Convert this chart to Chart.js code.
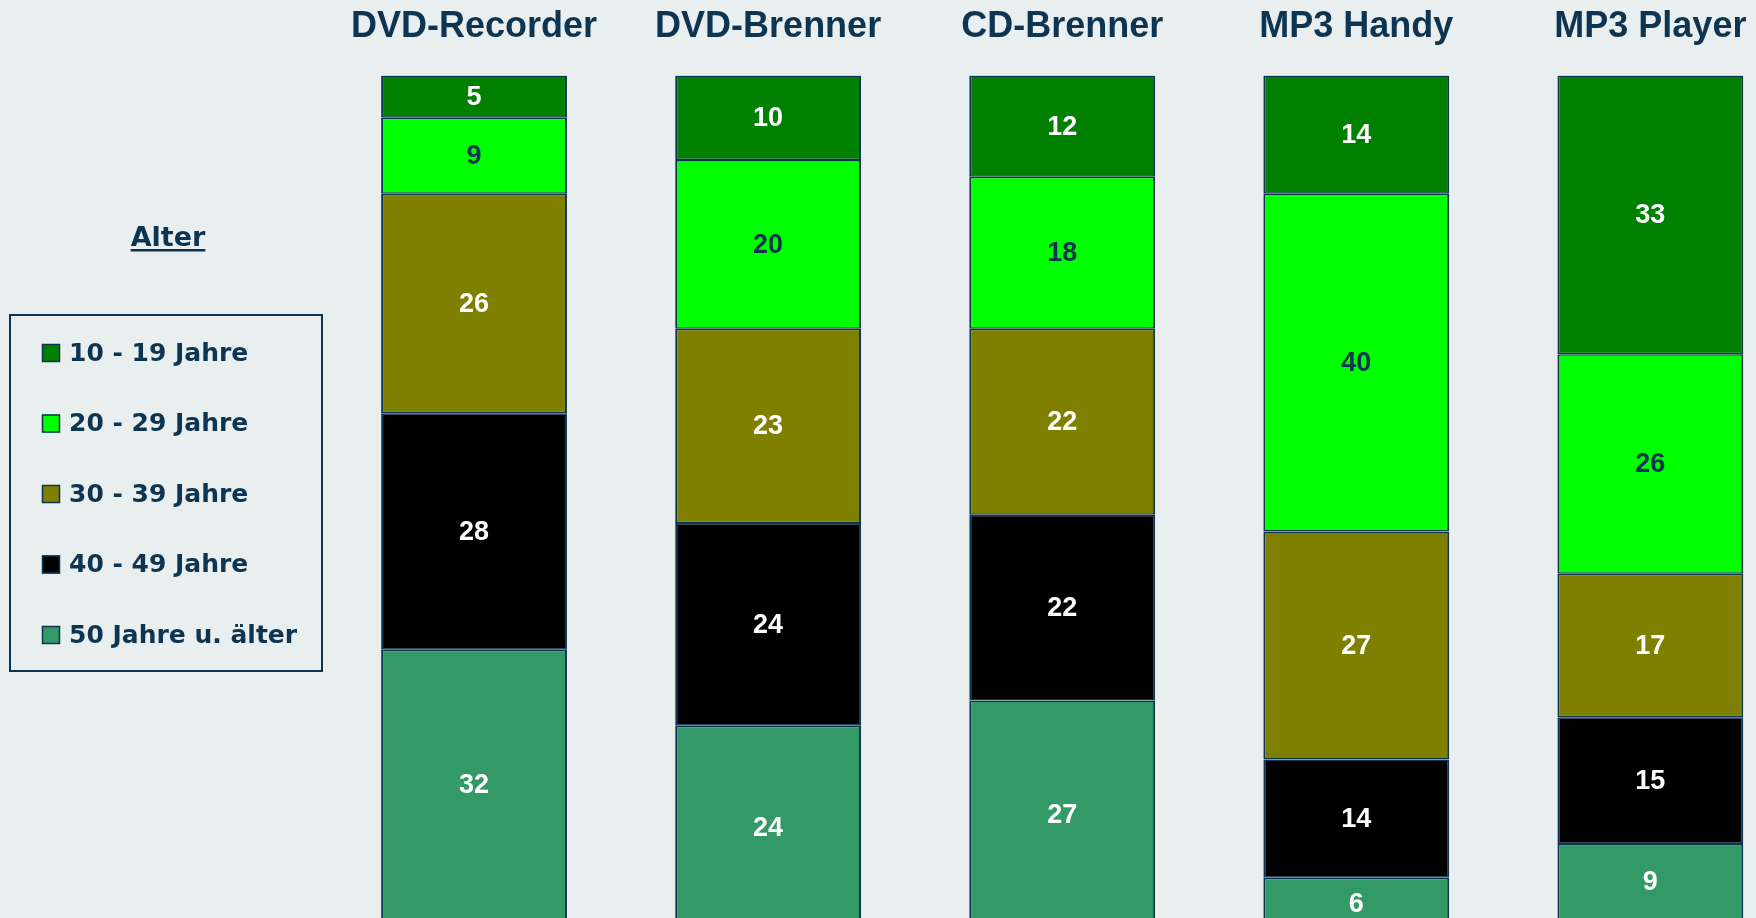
<!DOCTYPE html>
<html>
<head>
<meta charset="utf-8">
<script src="https://cdn.jsdelivr.net/npm/chart.js@4/dist/chart.umd.min.js"></script>
<style>
  html, body { margin: 0; padding: 0; background: #e9eeef; overflow: hidden; }
  #wrap { position: absolute; left: 0; top: 0; width: 1800px; height: 1000px; }
</style>
</head>
<body>
<div id="wrap"><canvas id="chart" width="1800" height="1000"></canvas></div>
<script>
// categories and values (percent per age group)
const categories = ["DVD-Recorder", "DVD-Brenner", "CD-Brenner", "MP3 Handy", "MP3 Player"];
const age10to19 = [5, 10, 12, 14, 33];
const age20to29 = [9, 20, 18, 40, 26];
const age30to39 = [26, 23, 22, 27, 17];
const age40to49 = [28, 24, 22, 14, 15];
const age50plus = [32, 24, 27, 6, 9];
const seriesNames = ["10 - 19 Jahre", "20 - 29 Jahre", "30 - 39 Jahre", "40 - 49 Jahre", "50 Jahre u. älter"];
const legendTitle = "Alter";

const seriesColors = ["#008000", "#00ff00", "#808000", "#000000", "#339966"];
const labelColors = ["#ffffff", "#0d3552", "#ffffff", "#ffffff", "#ffffff"];
const navy = "#0d3552";

const seriesValues = [age10to19, age20to29, age30to39, age40to49, age50plus];

// value labels in the middle of every segment
const segmentLabels = {
    id: "segmentLabels",
    afterDatasetsDraw(chart) {
        const ctx = chart.ctx;
        ctx.save();
        ctx.font = "bold 27px 'Liberation Sans', Arial, sans-serif";
        ctx.textAlign = "center";
        ctx.textBaseline = "middle";
        chart.data.datasets.forEach((ds, i) => {
            const meta = chart.getDatasetMeta(i);
            ctx.fillStyle = labelColors[i];
            meta.data.forEach((bar, j) => {
                const y = (bar.y + bar.base) / 2;
                ctx.fillText(String(ds.data[j]), bar.x, y + 1);
            });
        });
        ctx.restore();
    }
};

// category titles above the bars, placed with the x scale
const categoryTitles = {
    id: "categoryTitles",
    afterDraw(chart) {
        const ctx = chart.ctx;
        const xScale = chart.scales.x;
        ctx.save();
        ctx.font = "bold 36px 'Liberation Sans', Arial, sans-serif";
        ctx.fillStyle = navy;
        ctx.textAlign = "center";
        ctx.textBaseline = "alphabetic";
        chart.data.labels.forEach((lab, i) => {
            ctx.fillText(lab, xScale.getPixelForValue(i), 37);
        });
        ctx.restore();
    }
};

// boxed legend on the left with underlined title
const boxLegend = {
    id: "boxLegend",
    afterDraw(chart) {
        const ctx = chart.ctx;
        ctx.save();
        ctx.fillStyle = navy;
        ctx.font = "bold 27px 'DejaVu Sans', Verdana, sans-serif";
        ctx.textAlign = "center";
        ctx.textBaseline = "alphabetic";
        ctx.fillText(legendTitle, 168, 246);
        const w = ctx.measureText(legendTitle).width;
        ctx.fillRect(168 - w / 2, 249, w, 2.5);

        ctx.strokeStyle = navy;
        ctx.lineWidth = 2;
        ctx.strokeRect(10, 315, 312, 356);

        ctx.font = "bold 25px 'DejaVu Sans', Verdana, sans-serif";
        ctx.textAlign = "left";
        ctx.textBaseline = "middle";
        chart.data.datasets.forEach((ds, i) => {
            const cy = 353 + i * 70.5;
            ctx.fillStyle = ds.backgroundColor;
            ctx.fillRect(42, cy - 9, 18, 18);
            ctx.lineWidth = 1.5;
            ctx.strokeRect(42.5, cy - 8.5, 17, 17);
            ctx.fillStyle = navy;
            ctx.fillText(ds.label, 69, cy + 1);
        });
        ctx.restore();
    }
};

const datasets = seriesNames.map((name, i) => ({
    label: name,
    data: seriesValues[i],
    backgroundColor: seriesColors[i],
    borderColor: navy,
    borderWidth: { top: 1.5, bottom: 1.5, left: 2, right: 2 },
    borderSkipped: false,
    barPercentage: 0.632,
    categoryPercentage: 1.0,
}));

new Chart(document.getElementById("chart"), {
    type: "bar",
    data: { labels: categories, datasets: datasets },
    plugins: [segmentLabels, categoryTitles, boxLegend],
    options: {
        responsive: false,
        animation: false,
        devicePixelRatio: 1,
        layout: { padding: { left: 327, right: 2.6, top: 75.5, bottom: 4 } },
        plugins: {
            legend: { display: false },
            tooltip: { enabled: false },
        },
        scales: {
            x: { stacked: true, display: false },
            y: { stacked: true, display: false, reverse: true, min: 0, max: 109 },
        },
    },
});
</script>
</body>
</html>
